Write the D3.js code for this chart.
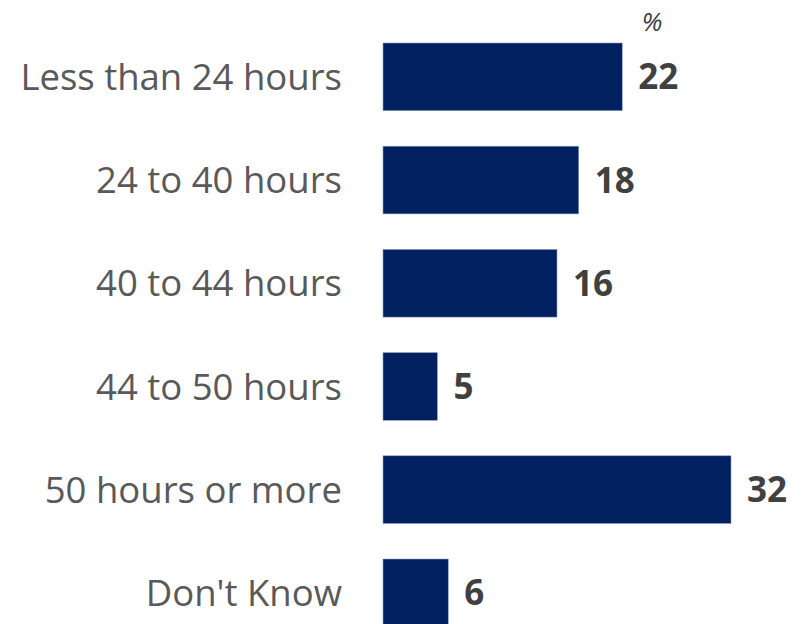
<!DOCTYPE html>
<html>
<head>
<meta charset="utf-8">
<script src="https://cdn.jsdelivr.net/npm/d3@7"></script>
<style>
  body { margin: 0; background: #fff; }
  svg { display: block; }
</style>
</head>
<body>
<div id="chart"></div>
<script>
// survey answers, share of respondents in %
var categories = ['Less than 24 hours', '24 to 40 hours', '40 to 44 hours', '44 to 50 hours', '50 hours or more', "Don't Know"];
var values = [22, 18, 16, 5, 32, 6];

var width = 807, height = 624;

var svg = d3.select('#chart').append('svg')
  .attr('width', width)
  .attr('height', height);

//x scale from bar origin to the longest bar
var x = d3.scaleLinear()
  .domain([0, 32])
  .range([383, 731]);

//one band per answer
var y = d3.scaleBand()
  .domain(categories)
  .range([43, 626.7])
  .paddingInner(0.344)
  .paddingOuter(0);

var rows = svg.selectAll('g.row')
  .data(categories)
  .enter().append('g')
  .attr('class', 'row');

rows.append('rect')
  .attr('x', x(0))
  .attr('y', function (d) { return y(d); })
  .attr('width', function (d, i) { return x(values[i]) - x(0); })
  .attr('height', y.bandwidth())
  .attr('fill', '#002060')
  .attr('stroke', '#8ea0c0')
  .attr('stroke-width', 0.6);

//category labels on the left
rows.append('text')
  .attr('x', 342)
  .attr('y', function (d) { return y(d) + y.bandwidth() / 2; })
  .attr('dy', '0.36em')
  .attr('text-anchor', 'end')
  .style('font-family', 'Open Sans, sans-serif')
  .style('font-size', '36.5px')
  .attr('fill', '#595959')
  .text(function (d) { return d; });

//value labels after each bar
rows.append('text')
  .attr('x', function (d, i) { return x(values[i]) + 16; })
  .attr('y', function (d) { return y(d) + y.bandwidth() / 2; })
  .attr('dy', '0.36em')
  .style('font-family', 'Open Sans, sans-serif')
  .style('font-size', '35px')
  .style('font-weight', 'bold')
  .attr('fill', '#404040')
  .text(function (d, i) { return values[i]; });

svg.append('text')
  .attr('x', 652)
  .attr('y', 31)
  .attr('text-anchor', 'middle')
  .style('font-family', 'Open Sans, sans-serif')
  .style('font-size', '26px')
  .style('font-style', 'italic')
  .attr('fill', '#404040')
  .text('%');
</script>
</body>
</html>
